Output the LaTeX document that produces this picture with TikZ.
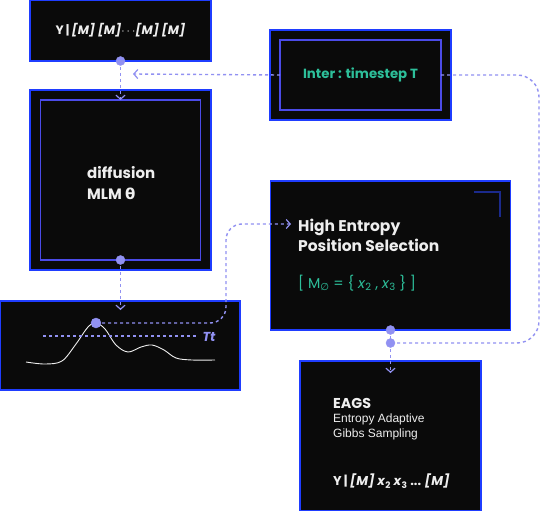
\documentclass[tikz,border=0pt]{standalone}
\usepackage{fontspec}
\setmainfont{Poppins}
\newfontfamily\grk{DejaVu Sans}
\newfontfamily\plainsf{Liberation Sans}
\usetikzlibrary{arrows.meta}
\definecolor{boxfill}{HTML}{0A0A0A}
\definecolor{edgeblue}{HTML}{1F3DFF}
\definecolor{inblue}{HTML}{4B4BE8}
\definecolor{lav}{HTML}{9191F2}
\definecolor{teal}{HTML}{2DBF9A}
\definecolor{navy}{HTML}{1B2A8C}
\definecolor{txt}{HTML}{EEEEEE}
\begin{document}
\begin{tikzpicture}[x=1pt,y=-1pt,
  box/.style={draw=edgeblue,line width=1.6pt,fill=boxfill,outer sep=0pt,inner sep=0pt},
  inbox/.style={draw=inblue,line width=1.2pt,outer sep=0pt,inner sep=0pt},
  conn/.style={draw=lav,line width=1.4pt,dash pattern=on 3pt off 3pt},
  tip/.style={-{Straight Barb[length=4pt,width=9pt,line width=1.2pt]}},
  lbl/.style={text=txt,font=\fontsize{15.5}{20}\selectfont\bfseries,align=left,anchor=west,inner sep=0pt}]
\useasboundingbox[fill=white] (0,0) rectangle (541,511);
\node[box,minimum width=181,minimum height=61,text=txt,font=\fontsize{12.2}{14}\selectfont\bfseries] (tokens) at (120.5,30.5) {Y\,|\,\textit{[M]} \textit{[M]}$\cdots$\textit{[M]} \textit{[M]}};
\node[box,minimum width=181,minimum height=180] (mlm) at (120.5,180) {};
\node[inbox,minimum width=160,minimum height=160] (mlmin) at (120.5,180) {};
\node[lbl,font=\fontsize{15}{21}\selectfont\bfseries] (mlmtxt) at (87,183) {diffusion\\MLM {\grk θ}};
\node[box,minimum width=181,minimum height=90] (inter) at (360.5,75) {};
\node[inbox,minimum width=161,minimum height=70,text=teal,font=\fontsize{13.3}{15}\selectfont\bfseries] (interin) at (360.5,75) {Inter : timestep T};
\node[box,minimum width=240,minimum height=149] (select) at (390.5,255.5) {};
\draw[navy,line width=1.6pt] (474,192) -- (500,192) -- (500,217);
\node[lbl] (selecttxt) at (298,235) {High Entropy\\Position Selection};
\node[anchor=west,inner sep=0pt,text=teal,font=\fontsize{14.3}{16}\selectfont] (maskset) at (298,283) {[ M\textsubscript{\grk ∅} = \{ \textit{x}\textsubscript{2} , \textit{x}\textsubscript{3} \} ]};
\node[box,minimum width=181,minimum height=150] (eags) at (390.5,436) {};
\node[lbl,font=\fontsize{14.3}{16}\selectfont\bfseries] (eagstxt) at (333,403) {EAGS};
\node[anchor=west,inner sep=0pt,text=txt,align=left,font=\plainsf\fontsize{12}{15}\selectfont] (eagsdesc) at (333,427) {Entropy Adaptive\\Gibbs Sampling};
\node[anchor=west,inner sep=0pt,text=txt,font=\fontsize{12.8}{14}\selectfont\bfseries] (eagsout) at (333,481) {Y\,|\,\textit{[M]} \textit{x}\textsubscript{2} \textit{x}\textsubscript{3} ... \textit{[M]}};
\node[box,minimum width=240,minimum height=89] (graph) at (120,345.5) {};
\draw[txt,line width=0.9pt] plot[smooth,tension=0.55] coordinates {(26,362) (45,364) (62,361) (76,344) (88,327) (96,323) (105,329) (116,345) (128,352) (141,347) (152,345) (164,350) (176,358) (192,360) (215,360)};
\draw[conn] (43,336) -- (197,336);
\node[text=lav,font=\fontsize{13}{15}\selectfont\bfseries\itshape,inner sep=0pt] (thr) at (209,337) {Tt};
\coordinate (peak) at (96,323);
\coordinate (mlmin-arr) at (120.5,310);
\coordinate (tokens-arr) at (133,74);
\coordinate (select-arr) at (291,224);
\coordinate (join) at (390.5,343);
\coordinate (eags-arr) at (390.5,373);
\draw[conn,tip] (tokens.south) -- (mlmin.north);
\draw[conn,tip] (interin.west) -- (tokens-arr);
\draw[conn,rounded corners=22pt] (interin.east) -- (539,75) -- (539,343) -- (join);
\draw[conn] (select.south) -- (join);
\draw[conn,tip] (join) -- (eags-arr);
\draw[conn,tip] (mlmin.south) -- (mlmin-arr);
\draw[conn,tip,rounded corners=16pt] (peak) -- (226,323) -- (226,224) -- (select-arr);
\draw [fill=lav,lav] (tokens.south) circle [radius=4.5];
\draw [fill=lav,lav] (mlmin.south) circle [radius=4.5];
\draw [fill=lav,lav] (peak) circle [radius=5];
\draw [fill=lav,lav] (select.south) circle [radius=4.5];
\draw [fill=lav,lav] (join) circle [radius=4.5];
\end{tikzpicture}
\end{document}
